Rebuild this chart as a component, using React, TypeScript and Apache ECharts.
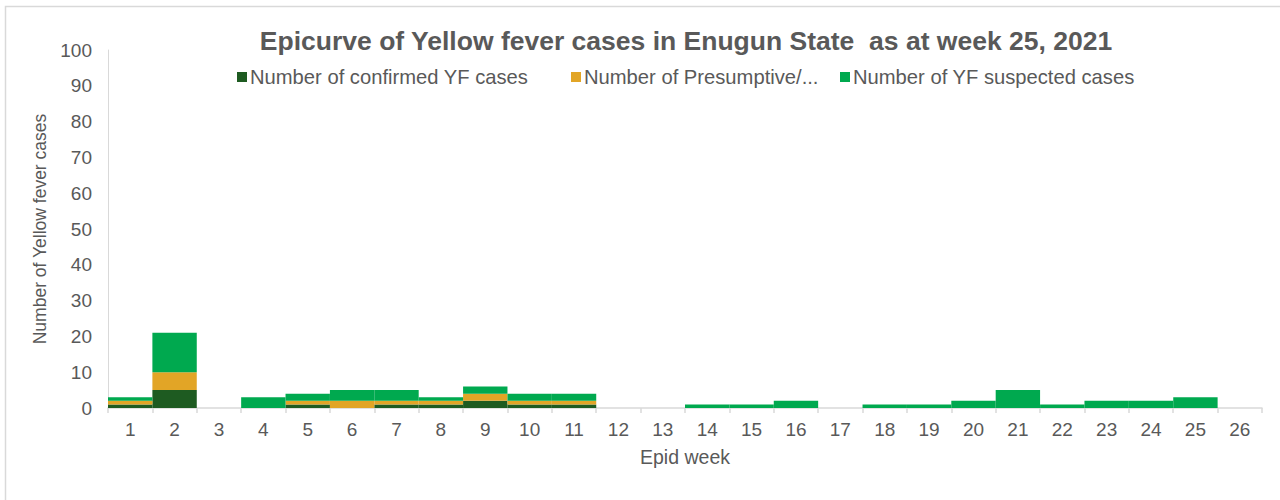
import React, { useEffect, useRef } from "react";
import * as echarts from "echarts";

const weeks = ["1","2","3","4","5","6","7","8","9","10","11","12","13","14","15","16","17","18","19","20","21","22","23","24","25","26"];
const confirmed =   [1,5,0,0,1,0,1,1,2,1,1,0,0,0,0,0,0,0,0,0,0,0,0,0,0,0];
const presumptive = [1,5,0,0,1,2,1,1,2,1,1,0,0,0,0,0,0,0,0,0,0,0,0,0,0,0];
const suspected =   [1,11,0,3,2,3,3,1,2,2,2,0,0,1,1,2,0,1,1,2,5,1,2,2,3,0];
const yTicks = [0, 10, 20, 30, 40, 50, 60, 70, 80, 90, 100];

const NAME_C = "Number of confirmed YF cases";
const NAME_P = "Number of Presumptive/...";
const NAME_S = "Number of YF suspected cases";
const COL_C = "#1E5B21";
const COL_P = "#E2A526";
const COL_S = "#00A94F";
const FONT = "'Liberation Sans', Arial, sans-serif";
const TXT = "#595959";

export default function App() {
  const ref = useRef<HTMLDivElement>(null);
  useEffect(() => {
    if (!ref.current) return;
    const chart = echarts.init(ref.current, undefined, { renderer: "svg" });
    const legendBase = {
      orient: "horizontal",
      top: 67,
      itemWidth: 10,
      itemHeight: 10,
      itemGap: 4,
      icon: "rect",
      textStyle: { color: TXT, fontSize: 20.2, fontFamily: FONT, padding: [0, 0, 0, -2] },
      padding: 0,
      selectedMode: false,
    };
    const barStyle = (c: string) => ({ color: c, borderWidth: 0 });
    chart.setOption({
      animation: false,
      textStyle: { fontFamily: FONT },
      graphic: [
        {
          type: "rect",
          shape: { x: 5.5, y: 6.5, width: 1300, height: 520 },
          style: { fill: "none", stroke: "#d9d9d9", lineWidth: 1.5 },
          silent: true,
          z: -10,
        },
      ],
      title: {
        text: "Epicurve of Yellow fever cases in Enugun State  as at week 25, 2021",
        left: 681,
        textAlign: "center",
        top: 22,
        textStyle: { color: TXT, fontSize: 26.5, fontWeight: "bold", fontFamily: FONT },
      },
      legend: [
        { ...legendBase, left: 237, data: [NAME_C] },
        { ...legendBase, left: 571, data: [NAME_P] },
        { ...legendBase, left: 840, data: [NAME_S] },
      ],
      grid: { left: 108, right: 18, top: 50, bottom: 92, containLabel: false },
      xAxis: {
        type: "category",
        data: weeks,
        name: "Epid week",
        nameLocation: "middle",
        nameGap: 39,
        nameTextStyle: { color: TXT, fontSize: 19.5, fontFamily: FONT },
        axisLine: { lineStyle: { color: "#d9d9d9", width: 1.5 } },
        axisTick: { show: true, alignWithLabel: false, length: 5, lineStyle: { color: "#d9d9d9", width: 1.5 } },
        axisLabel: { color: TXT, fontSize: 19, fontFamily: FONT, margin: 12, interval: 0 },
      },
      yAxis: {
        type: "value",
        min: yTicks[0],
        max: yTicks[yTicks.length - 1],
        interval: 10,
        name: "Number of Yellow fever cases",
        nameLocation: "middle",
        nameGap: 57,
        nameRotate: 90,
        nameTextStyle: { color: TXT, fontSize: 17.5, fontFamily: FONT },
        axisLine: { show: true, lineStyle: { color: "#d9d9d9", width: 1 } },
        axisTick: { show: false },
        splitLine: { show: false },
        axisLabel: { color: TXT, fontSize: 19, fontFamily: FONT, margin: 16 },
      },
      series: [
        { name: NAME_C, type: "bar", stack: "t", data: confirmed, barCategoryGap: "0%", itemStyle: barStyle(COL_C) },
        { name: NAME_P, type: "bar", stack: "t", data: presumptive, barCategoryGap: "0%", itemStyle: barStyle(COL_P) },
        { name: NAME_S, type: "bar", stack: "t", data: suspected, barCategoryGap: "0%", itemStyle: barStyle(COL_S) },
      ],
    });
    return () => chart.dispose();
  }, []);
  return (
    <div
      ref={ref}
      style={{ position: "fixed", left: 0, top: 0, width: 1280, height: 500, background: "#fff" }}
    />
  );
}
